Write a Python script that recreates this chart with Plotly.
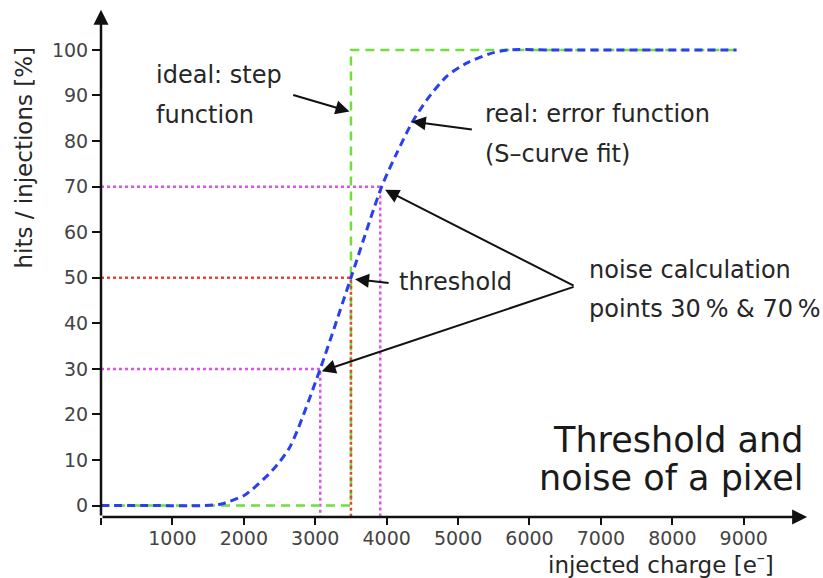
import plotly.graph_objects as go

# S-curve of a pixel: hit fraction versus injected charge
charge_e = [0, 800, 1400, 1670, 2020, 2410, 2650, 3070, 3500, 3930, 4140, 4350, 4560, 4840, 5120, 5450, 5700, 6300, 8900]
hits_pct = [0, 0, 0, 0.3, 2.4, 7.9, 13.0, 30, 50, 70, 77.3, 83.9, 89.0, 94.2, 97.1, 99.2, 100, 100, 100]

# ideal response: step function at the threshold
step_x = [0, 3500, 3500, 8900]
step_y = [0, 0, 100, 100]

threshold_e = 3500
threshold_pct = 50
noise_points_e = [3070, 3910]
noise_points_pct = [30, 70]

x_ticks = [0, 1000, 2000, 3000, 4000, 5000, 6000, 7000, 8000, 9000]
x_ticktext = [""] + [str(v) for v in x_ticks[1:]]
y_ticks = [0, 10, 20, 30, 40, 50, 60, 70, 80, 90, 100]

X_MAX = 9900
Y_MIN, Y_MAX = -2.5, 109.2
X_TIP, Y_TIP = 9888, 108.8

FONT = "DejaVu Sans"
TEXT = "#262626"

fig = go.Figure()

# dotted guide lines to the axes
for xv, yv in zip(noise_points_e, noise_points_pct):
    fig.add_trace(go.Scatter(
        x=[0, xv, xv], y=[yv, yv, Y_MIN], mode="lines",
        line=dict(color="#e04ff0", width=2.5, dash="3px,3px"),
        hoverinfo="skip", showlegend=False))

fig.add_trace(go.Scatter(
    x=step_x, y=step_y, mode="lines",
    line=dict(color="#6ee03c", width=2.5, dash="9px,6px"),
    hoverinfo="skip", showlegend=False))

fig.add_trace(go.Scatter(
    x=[0, threshold_e, threshold_e], y=[threshold_pct, threshold_pct, Y_MIN], mode="lines",
    line=dict(color="#e0443a", width=2.5, dash="3px,3px"),
    hoverinfo="skip", showlegend=False))

fig.add_trace(go.Scatter(
    x=charge_e, y=hits_pct, mode="lines",
    line=dict(color="#2a3ff0", width=3, dash="8px,5px", shape="spline", smoothing=0.7),
    hoverinfo="skip", showlegend=False))

annotations = []

# axes drawn as arrows
axis_arrow = dict(text="", showarrow=True, arrowhead=2, arrowsize=1.2, arrowwidth=2.5,
                  arrowcolor="#111111", xref="x", yref="y", axref="x", ayref="y")
annotations.append(dict(axis_arrow, x=X_TIP, y=Y_MIN, ax=0, ay=Y_MIN))
annotations.append(dict(axis_arrow, x=0, y=Y_TIP, ax=0, ay=Y_MIN))

# pointer arrows (tip, tail)
pointers = [
    ((3480, 86.5), (2671, 90.2)),
    ((4352, 84.3), (5214, 82.5)),
    ((3557, 49.7), (4048, 48.8)),
    ((3978, 69.3), (6639, 48.1)),
    ((3091, 29.5), (6639, 48.1)),
]
for (tx, ty), (sx, sy) in pointers:
    annotations.append(dict(text="", showarrow=True, arrowhead=2, arrowsize=1.4, arrowwidth=2,
                            arrowcolor="#111111", x=tx, y=ty, ax=sx, ay=sy,
                            xref="x", yref="y", axref="x", ayref="y"))

# labels, one annotation per line
labels = [
    ("ideal: step", 742, 94.5),
    ("function", 742, 85.8),
    ("real: error function", 5350, 85.9),
    ("(S\u2013curve fit)", 5350, 77.1),
    ("threshold", 4146, 49.1),
    ("noise calculation", 6807, 51.7),
    ("points 30\u202f% & 70\u202f%", 6807, 43.1),
]
for txt, xv, yv in labels:
    annotations.append(dict(text=txt, x=xv, y=yv, xref="x", yref="y", showarrow=False,
                            xanchor="left", yanchor="middle",
                            font=dict(family=FONT, size=24, color=TEXT)))

for txt, yv in [("Threshold and", 14.3), ("noise of a pixel", 6.1)]:
    annotations.append(dict(text=txt, x=9860, y=yv, xref="x", yref="y", showarrow=False,
                            xanchor="right", yanchor="middle",
                            font=dict(family=FONT, size=35, color="#1a1a1a")))

# axis titles
annotations.append(dict(text="injected charge [e<sup>\u2013</sup>]", x=0.955, y=-0.091,
                        xref="paper", yref="paper", showarrow=False,
                        xanchor="right", yanchor="middle",
                        font=dict(family=FONT, size=23, color=TEXT)))
annotations.append(dict(text="hits / injections [%]", x=-0.109, y=0.706,
                        xref="paper", yref="paper", showarrow=False, textangle=-90,
                        xanchor="center", yanchor="middle",
                        font=dict(family=FONT, size=23, color=TEXT)))

fig.update_layout(
    width=823, height=578,
    margin=dict(l=101, r=15, t=8, b=61),
    paper_bgcolor="white", plot_bgcolor="white",
    showlegend=False,
    annotations=annotations,
    xaxis=dict(range=[0, X_MAX], tickvals=x_ticks, ticktext=x_ticktext,
               showgrid=False, zeroline=False, showline=False,
               ticks="outside", ticklen=7, tickwidth=2, tickcolor="#111111",
               ticklabelstandoff=-3,
               tickfont=dict(family=FONT, size=19, color="#444444")),
    yaxis=dict(range=[Y_MIN, Y_MAX], tickvals=y_ticks,
               showgrid=False, zeroline=False, showline=False,
               ticks="outside", ticklen=8, tickwidth=2, tickcolor="#111111",
               tickfont=dict(family=FONT, size=19, color="#444444")),
)

fig.write_html("out.html")
